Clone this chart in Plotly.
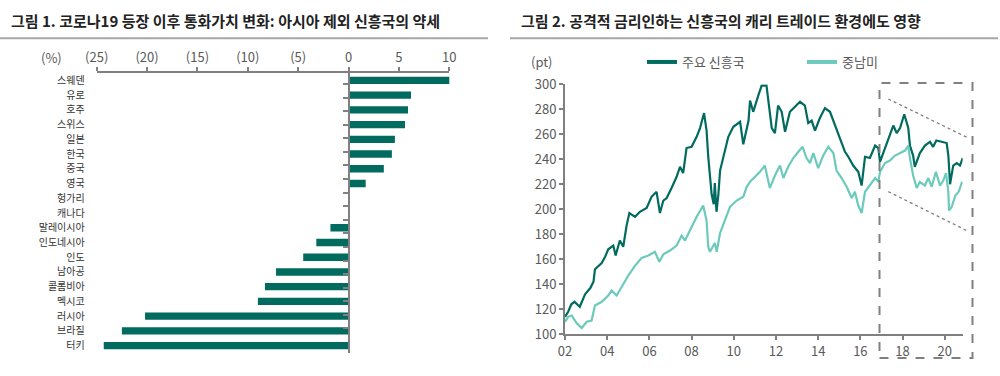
import plotly.graph_objects as go

# ---------------- Data: left chart (currency change since COVID-19, %) ----------------
countries = ["스웨덴", "유로", "호주", "스위스", "일본", "한국", "중국", "영국", "헝가리", "캐나다",
             "말레이시아", "인도네시아", "인도", "남아공", "콜롬비아", "멕시코", "러시아", "브라질", "터키"]
fx_change = [10.1, 6.2, 5.9, 5.6, 4.6, 4.3, 3.5, 1.7, 0.0, 0.0,
             -1.8, -3.2, -4.5, -7.2, -8.3, -9.0, -20.2, -22.5, -24.3]
left_tickvals = [-25, -20, -15, -10, -5, 0, 5, 10]
left_ticktext = ["(25)", "(20)", "(15)", "(10)", "(5)", "0", "5", "10"]

# ---------------- Data: right chart (carry trade index, pt) ----------------
em_year = [2002.00, 2002.15, 2002.30, 2002.45, 2002.70, 2002.95, 2003.20, 2003.35, 2003.42, 2003.74,
           2003.90, 2004.05, 2004.29, 2004.40, 2004.60, 2004.76, 2004.92, 2005.05, 2005.32, 2005.55,
           2005.87, 2006.10, 2006.34, 2006.45, 2006.50, 2006.66, 2006.82, 2007.05, 2007.29, 2007.45,
           2007.60, 2007.76, 2008.00, 2008.24, 2008.40, 2008.59, 2008.71, 2008.79, 2008.87, 2008.95,
           2009.05, 2009.10, 2009.18, 2009.27, 2009.35, 2009.50, 2009.74, 2009.98, 2010.30, 2010.45,
           2010.70, 2010.77, 2010.92, 2011.16, 2011.32, 2011.55, 2011.64, 2011.80, 2011.95, 2012.10,
           2012.27, 2012.43, 2012.66, 2012.90, 2013.14, 2013.37, 2013.53, 2013.69, 2013.85, 2014.08,
           2014.32, 2014.56, 2014.80, 2015.03, 2015.27, 2015.43, 2015.66, 2015.90, 2016.06, 2016.22,
           2016.45, 2016.70, 2016.85, 2016.93, 2017.17, 2017.40, 2017.56, 2017.72, 2017.88, 2018.08,
           2018.27, 2018.35, 2018.50, 2018.58, 2018.82, 2019.06, 2019.30, 2019.45, 2019.60, 2019.85,
           2020.09, 2020.17, 2020.25, 2020.40, 2020.57, 2020.72, 2020.85]
em_value = [114, 118, 124, 126, 122, 132, 137, 142, 152, 157,
            162, 168, 171, 163, 175, 170, 187, 197, 194, 198,
            201, 210, 214, 203, 197, 207, 209, 217, 226, 234,
            229, 249, 250, 258, 265, 277, 263, 242, 223, 212,
            204, 221, 198, 212, 231, 242, 258, 266, 270, 252,
            271, 287, 278, 291, 299, 299, 286, 265, 261, 283,
            278, 262, 278, 282, 286, 283, 269, 271, 263, 273,
            281, 278, 267, 257, 246, 242, 235, 230, 219, 242,
            241, 251, 249, 238, 249, 258, 267, 261, 265, 276,
            265, 251, 243, 234, 245, 251, 254, 250, 255, 254,
            253, 243, 220, 235, 237, 235, 241]

latam_year = [2002.00, 2002.15, 2002.32, 2002.55, 2002.79, 2003.03, 2003.26, 2003.42, 2003.74, 2004.05,
              2004.21, 2004.45, 2004.69, 2005.00, 2005.32, 2005.63, 2005.95, 2006.26, 2006.47, 2006.66,
              2006.98, 2007.29, 2007.53, 2007.69, 2007.92, 2008.24, 2008.55, 2008.71, 2008.79, 2008.87,
              2009.10, 2009.19, 2009.35, 2009.58, 2009.82, 2010.14, 2010.45, 2010.61, 2010.77, 2011.24,
              2011.47, 2011.71, 2011.95, 2012.19, 2012.35, 2012.58, 2012.82, 2013.06, 2013.26, 2013.45,
              2013.61, 2013.77, 2014.00, 2014.24, 2014.48, 2014.72, 2014.87, 2015.11, 2015.35, 2015.59,
              2015.74, 2015.90, 2016.06, 2016.22, 2016.45, 2016.70, 2016.85, 2016.93, 2017.17, 2017.40,
              2017.64, 2017.88, 2018.12, 2018.27, 2018.35, 2018.50, 2018.67, 2018.82, 2019.06, 2019.22,
              2019.38, 2019.58, 2019.77, 2019.93, 2020.06, 2020.17, 2020.20, 2020.33, 2020.50, 2020.66,
              2020.82]
latam_value = [110, 114, 115, 109, 105, 110, 111, 123, 126, 131,
               135, 131, 138, 147, 155, 161, 163, 166, 158, 164,
               167, 171, 179, 175, 183, 194, 203, 191, 170, 166,
               173, 166, 181, 191, 202, 207, 210, 218, 222, 230,
               235, 217, 227, 235, 225, 234, 241, 246, 250, 241,
               237, 245, 233, 243, 250, 245, 231, 225, 218, 209,
               214, 203, 197, 214, 219, 225, 222, 230, 237, 239,
               243, 245, 247, 251, 241, 227, 217, 222, 219, 225,
               218, 230, 219, 223, 229, 214, 199, 202, 211, 214,
               222]
right_tickvals = [2002, 2004, 2006, 2008, 2010, 2012, 2014, 2016, 2018, 2020]
right_ticktext = ["02", "04", "06", "08", "10", "12", "14", "16", "18", "20"]

# ---------------- Styles ----------------
FONT = "Noto Sans CJK KR"
DARK = "#006B5E"
LIGHT = "#6CCABC"
AXIS = "#808080"
TICKTXT = "#595959"
W, H = 1000, 376

def px(x):
    return x / W

def py(y):
    return 1 - y / H

fig = go.Figure()

# left bars
fig.add_trace(go.Bar(x=fx_change, y=countries, orientation="h", marker=dict(color=DARK, line=dict(width=0)),
                     width=0.5, xaxis="x", yaxis="y", showlegend=False, hoverinfo="x+y"))
# helper (invisible) trace for the zero-line category axis
fig.add_trace(go.Scatter(x=[0] * len(countries), y=countries, mode="markers", marker=dict(opacity=0),
                         xaxis="x", yaxis="y2", showlegend=False, hoverinfo="skip"))

# right lines
fig.add_trace(go.Scatter(x=em_year, y=em_value, mode="lines", line=dict(color=DARK, width=2.2),
                         xaxis="x3", yaxis="y3", showlegend=False, name="주요 신흥국"))
fig.add_trace(go.Scatter(x=latam_year, y=latam_value, mode="lines", line=dict(color=LIGHT, width=2.2),
                         xaxis="x3", yaxis="y3", showlegend=False, name="중남미"))
# legend entries (thicker sample lines)
fig.add_trace(go.Scatter(x=[None], y=[None], mode="lines", line=dict(color=DARK, width=4),
                         xaxis="x3", yaxis="y3", name="주요 신흥국"))
fig.add_trace(go.Scatter(x=[None], y=[None], mode="lines", line=dict(color=LIGHT, width=4),
                         xaxis="x3", yaxis="y3", name="중남미"))

left_dom_x = [px(96.7), px(449.3)]
left_dom_y = [py(353), py(73)]
zero_pos = left_dom_x[0] + (0 - (-25)) / 35 * (left_dom_x[1] - left_dom_x[0])

fig.update_layout(
    width=W, height=H,
    margin=dict(l=0, r=0, t=0, b=0, autoexpand=False),
    paper_bgcolor="white", plot_bgcolor="white",
    font=dict(family=FONT, color=TICKTXT),
    xaxis=dict(domain=left_dom_x, range=[-25, 10], side="top", anchor="y",
               tickmode="array", tickvals=left_tickvals, ticktext=left_ticktext,
               ticks="outside", ticklen=4, tickwidth=1.5, tickcolor=AXIS,
               showline=True, linecolor=AXIS, linewidth=1.5, showgrid=False, zeroline=False,
               automargin=False,
               tickfont=dict(size=13, color=TICKTXT, family=FONT), fixedrange=True),
    yaxis=dict(domain=left_dom_y, type="category", autorange="reversed", anchor="x",
               tickmode="linear", dtick=1,
               showline=False, ticks="", showgrid=False, zeroline=False,
               ticklabelstandoff=11, automargin=False,
               tickfont=dict(size=10, color="#333333", family=FONT), fixedrange=True),
    yaxis2=dict(overlaying="y", anchor="free", position=zero_pos, type="category",
                autorange="reversed", tickson="boundaries", ticks="outside", ticklen=5,
                tickmode="linear", dtick=1,
                tickwidth=1.5, tickcolor=AXIS, showline=True, linecolor=AXIS, linewidth=2,
                showticklabels=False, showgrid=False, zeroline=False, automargin=False,
                fixedrange=True),
    xaxis3=dict(domain=[px(565), px(962.7)], range=[2002, 2020.85], anchor="y3",
                tickmode="array", tickvals=right_tickvals, ticktext=right_ticktext,
                ticks="outside", ticklen=4, tickwidth=1.5, tickcolor=AXIS,
                showline=True, linecolor=AXIS, linewidth=2, showgrid=False, zeroline=False,
                automargin=False,
                tickfont=dict(size=13, color=TICKTXT, family=FONT), fixedrange=True),
    yaxis3=dict(domain=[py(334.3), py(84.3)], range=[100, 300], anchor="x3", dtick=20,
                ticks="outside", ticklen=4, tickwidth=1.5, tickcolor=AXIS,
                showline=True, linecolor=AXIS, linewidth=2, showgrid=False, zeroline=False,
                automargin=False,
                tickfont=dict(size=13, color=TICKTXT, family=FONT), fixedrange=True),
    legend=dict(orientation="h", x=px(642), y=py(62), xanchor="left", yanchor="middle",
                font=dict(size=13, color=TICKTXT, family=FONT), bgcolor="rgba(0,0,0,0)",
                entrywidth=115, entrywidthmode="pixels", itemwidth=30, tracegroupgap=0),
)

shapes = [
    # title underlines
    dict(type="line", xref="paper", yref="paper", x0=0, x1=px(488), y0=py(38.3), y1=py(38.3),
         line=dict(color="#A6A6A6", width=2)),
    dict(type="line", xref="paper", yref="paper", x0=px(510), x1=px(998), y0=py(38.3), y1=py(38.3),
         line=dict(color="#A6A6A6", width=2)),
    # dashed highlight box
    dict(type="rect", xref="paper", yref="paper", x0=px(879.5), x1=px(972.5), y0=py(358), y1=py(83),
         line=dict(color="#808080", width=2, dash="dash"), fillcolor="rgba(0,0,0,0)"),
    # dotted trend channel
    dict(type="line", xref="paper", yref="paper", x0=px(888.3), x1=px(967.7), y0=py(99), y1=py(137.7),
         line=dict(color="#808080", width=1.3, dash="dot")),
    dict(type="line", xref="paper", yref="paper", x0=px(888.3), x1=px(967.7), y0=py(191.7), y1=py(231),
         line=dict(color="#808080", width=1.3, dash="dot")),
]
fig.update_layout(shapes=shapes)

annotations = [
    dict(text="<b>그림 1. 코로나19 등장 이후 통화가치 변화: 아시아 제외 신흥국의 약세</b>",
         xref="paper", yref="paper", x=px(9), y=py(20), xanchor="left", yanchor="middle",
         showarrow=False, font=dict(size=15, color="#222222", family=FONT)),
    dict(text="<b>그림 2. 공격적 금리인하는 신흥국의 캐리 트레이드 환경에도 영향</b>",
         xref="paper", yref="paper", x=px(519), y=py(20), xanchor="left", yanchor="middle",
         showarrow=False, font=dict(size=15, color="#222222", family=FONT)),
    dict(text="(%)", xref="paper", yref="paper", x=px(51.5), y=py(57), xanchor="center", yanchor="middle",
         showarrow=False, font=dict(size=13, color=TICKTXT, family=FONT)),
    dict(text="(pt)", xref="paper", yref="paper", x=px(542), y=py(62), xanchor="center", yanchor="middle",
         showarrow=False, font=dict(size=13, color=TICKTXT, family=FONT)),
]
fig.update_layout(annotations=annotations)

fig.write_html("out.html", config={"displayModeBar": False},
               post_script="document.body.style.margin='0';document.body.style.overflow='hidden';")
